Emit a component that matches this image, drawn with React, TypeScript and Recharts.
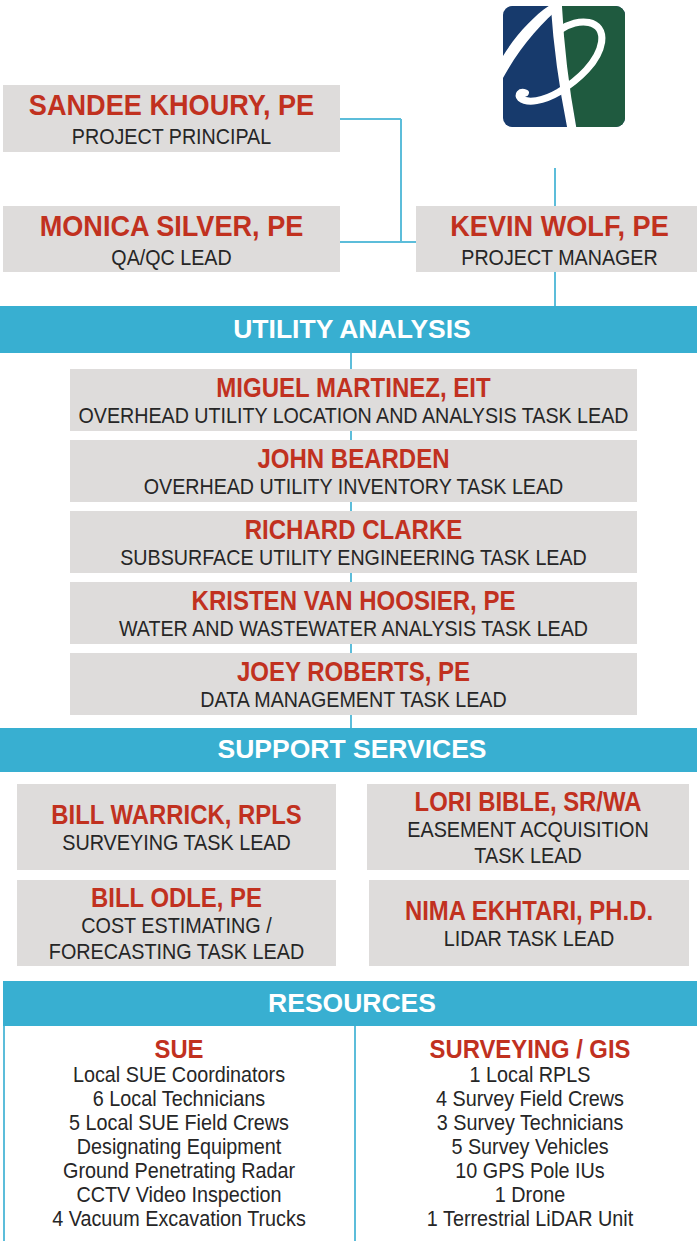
import React from 'react';
import { ScatterChart, Scatter, XAxis, YAxis, ReferenceArea, ReferenceLine } from 'recharts';

// ---------- content ----------
const leadershipNames = ['SANDEE KHOURY, PE', 'MONICA SILVER, PE', 'KEVIN WOLF, PE'];
const leadershipRoles = ['PROJECT PRINCIPAL', 'QA/QC LEAD', 'PROJECT MANAGER'];
const sectionTitles = ['UTILITY ANALYSIS', 'SUPPORT SERVICES', 'RESOURCES'];
const utilityNames = ['MIGUEL MARTINEZ, EIT', 'JOHN BEARDEN', 'RICHARD CLARKE', 'KRISTEN VAN HOOSIER, PE', 'JOEY ROBERTS, PE'];
const utilityRoles = [
  'OVERHEAD UTILITY LOCATION AND ANALYSIS TASK LEAD',
  'OVERHEAD UTILITY INVENTORY TASK LEAD',
  'SUBSURFACE UTILITY ENGINEERING TASK LEAD',
  'WATER AND WASTEWATER ANALYSIS TASK LEAD',
  'DATA MANAGEMENT TASK LEAD',
];
const supportNames = ['BILL WARRICK, RPLS', 'LORI BIBLE, SR/WA', 'BILL ODLE, PE', 'NIMA EKHTARI, PH.D.'];
const supportRoles = [
  ['SURVEYING TASK LEAD'],
  ['EASEMENT ACQUISITION', 'TASK LEAD'],
  ['COST ESTIMATING /', 'FORECASTING TASK LEAD'],
  ['LIDAR TASK LEAD'],
];
const resourceGroups = ['SUE', 'SURVEYING / GIS'];
const sueResources = [
  'Local SUE Coordinators',
  '6 Local Technicians',
  '5 Local SUE Field Crews',
  'Designating Equipment',
  'Ground Penetrating Radar',
  'CCTV Video Inspection',
  '4 Vacuum Excavation Trucks',
];
const surveyResources = [
  '1 Local RPLS',
  '4 Survey Field Crews',
  '3 Survey Technicians',
  '5 Survey Vehicles',
  '10 GPS Pole IUs',
  '1 Drone',
  '1 Terrestrial LiDAR Unit',
];

// ---------- layout (page coordinates) ----------
const W = 697;
const H = 1241;
const LEADER_BOXES = [
  { x1: 3, x2: 340, y1: 85, y2: 152 },
  { x1: 3, x2: 340, y1: 206, y2: 272 },
  { x1: 416, x2: 697, y1: 206, y2: 272 },
];
const LEADER_TEXT_DX = [0, 0, 3];
const BANNERS = [
  { x1: 0, x2: 697, y1: 306, y2: 353 },
  { x1: 0, x2: 697, y1: 728, y2: 772 },
  { x1: 3, x2: 697, y1: 981, y2: 1026 },
];
const UTILITY_TOP = 369;
const UTILITY_STEP = 71;
const UTILITY_H = 62;
const UTILITY_X = [70, 637];
const SUPPORT_BOXES = [
  { x1: 17, x2: 336, y1: 784, y2: 870 },
  { x1: 367, x2: 689, y1: 784, y2: 870 },
  { x1: 17, x2: 336, y1: 880, y2: 966 },
  { x1: 369, x2: 689, y1: 880, y2: 966 },
];
const RES_COLS = [179, 530];
const RES_HEAD_Y = 1048.5;
const RES_ITEM_Y = 1074;
const RES_STEP = 24;
const LOGO = { x1: 503, x2: 625, y1: 6, y2: 127 };
const SPINE_X = 351;

function spineSegments(): number[][][] {
  // vertical connector visible only in the gaps between the utility boxes
  const segs: number[][][] = [];
  let y = BANNERS[0].y2;
  utilityNames.forEach((_, i) => {
    const top = UTILITY_TOP + i * UTILITY_STEP;
    segs.push([[SPINE_X, y], [SPINE_X, top]]);
    y = top + UTILITY_H;
  });
  segs.push([[SPINE_X, y], [SPINE_X, BANNERS[1].y1]]);
  return segs;
}

const CONNECTORS = [
  [[340, 119], [401, 119]],
  [[401, 119], [401, 242]],
  [[340, 242], [416, 242]],
  [[555, 168], [555, 206]],
  [[555, 272], [555, 306]],
  [[4, 1026], [4, 1241]],
  [[355, 1026], [355, 1241]],
  ...spineSegments(),
];

// ---------- styles ----------
const FONT = "'Liberation Sans', Arial, Helvetica, sans-serif";
const GRAY = '#dedcdb';
const RED = '#c1311f';
const DARK = '#262626';
const BLUE = '#38afd1';
const LINE = '#5cbdda';
const STYLES: Record<string, { size: number; weight: number; color: string; sx: number }> = {
  leadName: { size: 29.5, weight: 700, color: RED, sx: 0.92 },
  leadRole: { size: 22, weight: 400, color: DARK, sx: 0.895 },
  banner: { size: 26.5, weight: 700, color: '#ffffff', sx: 1 },
  utilName: { size: 27, weight: 700, color: RED, sx: 0.89 },
  utilRole: { size: 21.5, weight: 400, color: DARK, sx: 0.915 },
  supName: { size: 27, weight: 700, color: RED, sx: 0.885 },
  supRole: { size: 22, weight: 400, color: DARK, sx: 0.9 },
  resHead: { size: 26.5, weight: 700, color: RED, sx: 0.9 },
  resItem: { size: 22, weight: 400, color: DARK, sx: 0.9 },
};

type Pt = { x: number; y: number; text: string; kind: string };

function buildText(): Pt[] {
  const pts: Pt[] = [];
  leadershipNames.forEach((n, i) => {
    const b = LEADER_BOXES[i];
    const cx = (b.x1 + b.x2) / 2 + LEADER_TEXT_DX[i];
    pts.push({ x: cx, y: b.y1 + 19, text: n, kind: 'leadName' });
    pts.push({ x: cx, y: b.y1 + 51, text: leadershipRoles[i], kind: 'leadRole' });
  });
  sectionTitles.forEach((t, i) => {
    const b = BANNERS[i];
    pts.push({ x: 352, y: (b.y1 + b.y2) / 2 - 1.5, text: t, kind: 'banner' });
  });
  utilityNames.forEach((n, i) => {
    const top = UTILITY_TOP + i * UTILITY_STEP;
    const cx = (UTILITY_X[0] + UTILITY_X[1]) / 2;
    pts.push({ x: cx, y: top + 18.5, text: n, kind: 'utilName' });
    pts.push({ x: cx, y: top + 46.5, text: utilityRoles[i], kind: 'utilRole' });
  });
  supportNames.forEach((n, i) => {
    const b = SUPPORT_BOXES[i];
    const cx = (b.x1 + b.x2) / 2;
    const cy = (b.y1 + b.y2) / 2 + 1;
    const roles = supportRoles[i];
    const total = 28 + 26 * (roles.length - 1);
    let y = cy - total / 2;
    pts.push({ x: cx, y, text: n, kind: 'supName' });
    y += 28;
    roles.forEach((r) => {
      pts.push({ x: cx, y, text: r, kind: 'supRole' });
      y += 26;
    });
  });
  [sueResources, surveyResources].forEach((items, c) => {
    pts.push({ x: RES_COLS[c], y: RES_HEAD_Y, text: resourceGroups[c], kind: 'resHead' });
    items.forEach((t, j) => {
      pts.push({ x: RES_COLS[c], y: RES_ITEM_Y + j * RES_STEP, text: t, kind: 'resItem' });
    });
  });
  return pts;
}

const textPoints = buildText();

const TextShape = (props: any) => {
  const { cx, cy, payload } = props;
  const s = STYLES[payload.kind];
  // baseline placed so that the cap height is centred on cy
  const baseline = 0.358 * s.size;
  return (
    <g transform={`translate(${cx},${cy}) scale(${s.sx},1)`}>
      <text
        x={0}
        y={baseline}
        textAnchor="middle"
        fontFamily={FONT}
        fontSize={s.size}
        fontWeight={s.weight}
        fill={s.color}
      >
        {payload.text}
      </text>
    </g>
  );
};

const LogoShape = (props: any) => {
  const { x, y, width, height } = props;
  const sx = width / 120;
  const sy = height / 121;
  return (
    <g transform={`translate(${x},${y}) scale(${sx},${sy})`}>
      <defs>
        <clipPath id="logoClip">
          <rect x={0} y={0} width={120} height={121} rx={9} ry={9} />
        </clipPath>
      </defs>
      <g clipPath="url(#logoClip)">
        <rect x={0} y={0} width={120} height={121} fill="#173a6c" />
        <path d="M57,0 L120,0 L120,121 L72,121 Q60,60 57,0 Z" fill="#1f5a3f" />
        <path d="M47,0 L58,0 Q61,60 72,121 L63,121 Q51,60 47,0 Z" fill="#ffffff" />
        <path d="M0,50 C12,30 30,10 45,0 L58,0 C38,16 16,42 0,72 Z" fill="#ffffff" />
        <path
          d="M56,24 C74,11 100,13 97,36 C94,56 74,74 55,86 C40,95 24,98 17,92 C14,89 17,85 22,87"
          fill="none"
          stroke="#ffffff"
          strokeWidth={7}
          strokeLinecap="round"
        />
      </g>
    </g>
  );
};

export default function App() {
  return (
    <div style={{ position: 'absolute', left: 0, top: 0, width: W, height: H, background: '#ffffff' }}>
      <ScatterChart width={W} height={H} margin={{ top: 0, right: 0, bottom: 0, left: 0 }}>
        <XAxis type="number" dataKey="x" domain={[0, W]} hide allowDataOverflow />
        <YAxis type="number" dataKey="y" domain={[0, H]} reversed hide allowDataOverflow />
        <ReferenceArea
          x1={LOGO.x1}
          x2={LOGO.x2}
          y1={LOGO.y1}
          y2={LOGO.y2}
          shape={<LogoShape />}
          ifOverflow="visible"
        />
        {LEADER_BOXES.map((b, i) => (
          <ReferenceArea key={`l${i}`} {...b} fill={GRAY} fillOpacity={1} stroke="none" ifOverflow="visible" />
        ))}
        {BANNERS.map((b, i) => (
          <ReferenceArea key={`b${i}`} {...b} fill={BLUE} fillOpacity={1} stroke="none" ifOverflow="visible" />
        ))}
        {utilityNames.map((_, i) => (
          <ReferenceArea
            key={`u${i}`}
            x1={UTILITY_X[0]}
            x2={UTILITY_X[1]}
            y1={UTILITY_TOP + i * UTILITY_STEP}
            y2={UTILITY_TOP + i * UTILITY_STEP + UTILITY_H}
            fill={GRAY}
            fillOpacity={1}
            stroke="none"
            ifOverflow="visible"
          />
        ))}
        {SUPPORT_BOXES.map((b, i) => (
          <ReferenceArea key={`s${i}`} {...b} fill={GRAY} fillOpacity={1} stroke="none" ifOverflow="visible" />
        ))}
        {CONNECTORS.map((seg, i) => (
          <ReferenceLine
            key={`c${i}`}
            segment={[{ x: seg[0][0], y: seg[0][1] }, { x: seg[1][0], y: seg[1][1] }]}
            stroke={LINE}
            strokeWidth={2}
            ifOverflow="visible"
          />
        ))}
        <Scatter data={textPoints} dataKey="y" shape={<TextShape />} isAnimationActive={false} />
      </ScatterChart>
    </div>
  );
}
